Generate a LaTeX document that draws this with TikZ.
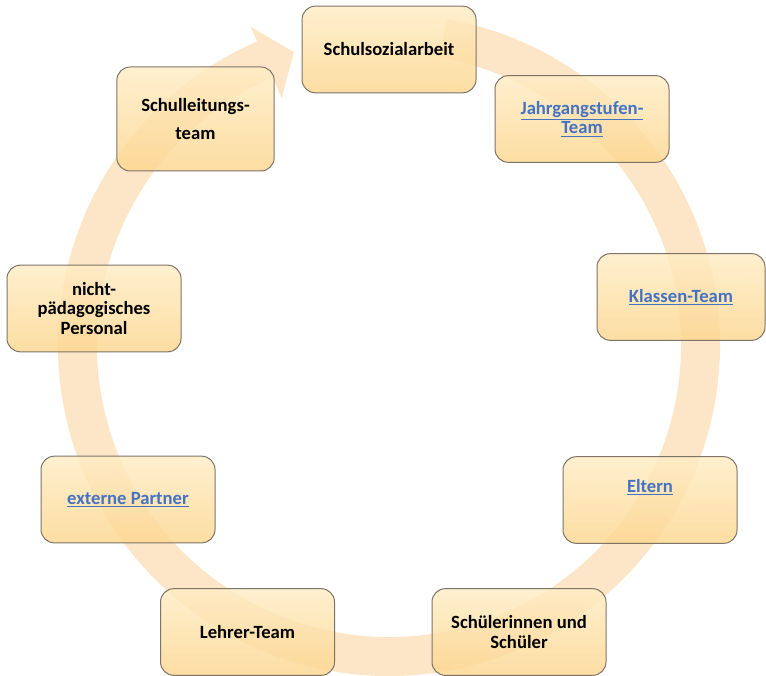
\documentclass[tikz,border=0pt]{standalone}
\usepackage{fontspec}
\setmainfont{Carlito}
\definecolor{ringfill}{RGB}{253,230,200}
\definecolor{boxtop}{RGB}{255,236,196}
\definecolor{boxbot}{RGB}{253,214,142}
\definecolor{boxline}{RGB}{125,116,104}
\definecolor{linkblue}{RGB}{68,114,196}
\newcommand{\lnk}[1]{\textcolor{linkblue}{\underline{#1}}}

\begin{document}
\begin{tikzpicture}[x=0.75pt,y=0.75pt,font=\fontsize{14}{14.5}\selectfont\bfseries]
       \tikzstyle{box}=[draw=boxline,line width=0.75pt,rounded corners=10pt,
                        top color=boxtop,bottom color=boxbot,fill opacity=0.82,text opacity=1,
                        align=center,inner sep=2pt,minimum width=130.5pt,minimum height=65pt]
       \tikzstyle{ring}=[fill=ringfill]

       \useasboundingbox (0,0) rectangle (766,675);

       \fill[ring,shift={(389,330)}]
            (80:331) arc[start angle=80,end angle=-246.5,radius=331]
            -- (-246.5:347) -- (-252:308) -- (-246.5:269) -- (-246.5:292)
            arc[start angle=-246.5,end angle=80,radius=292] -- cycle;

       \node[box] (b_0) at (389,625.5) {Schulsozialarbeit};
       \node[box] (b_1) at (582,556)   {\lnk{Jahrgangstufen-}\\\lnk{Team}};
       \node[box,minimum width=126pt] (b_2) at (681,378) {\lnk{Klassen-Team}};
       \node[box,text depth=21pt] (b_3) at (650,175) {\lnk{Eltern}};
       \node[box] (b_4) at (519,43)    {Schülerinnen und\\Schüler};
       \node[box] (b_5) at (247.5,43)  {Lehrer-Team};
       \node[box] (b_6) at (128,175.5) {\lnk{externe Partner}};
       \node[box] (b_7) at (94,366.5)  {nicht-\\pädagogisches\\Personal};
       \node[box,minimum width=118pt,minimum height=78pt,
             font=\fontsize{14}{21}\selectfont\bfseries] (b_8) at (195.5,556) {Schulleitungs-\\team};
     \end{tikzpicture}
\end{document}
